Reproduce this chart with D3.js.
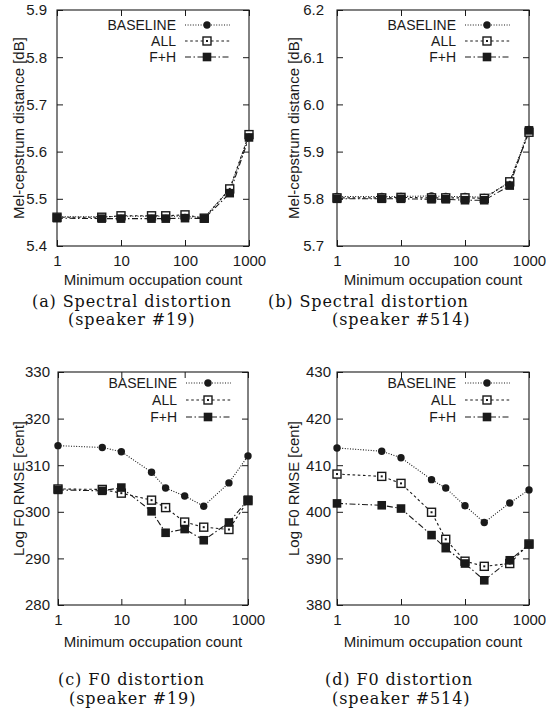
<!DOCTYPE html>
<html><head><meta charset="utf-8">
<script src="https://cdn.jsdelivr.net/npm/d3@7"></script>
<style>html,body{margin:0;padding:0;background:#fff;}svg{display:block;}</style>
</head><body>
<script>
const xCounts = [1, 5, 10, 30, 50, 100, 200, 500, 1000];
const xTickValues = [1, 10, 100, 1000];
const seriesNames = ["BASELINE", "ALL", "F+H"];

// (a) Spectral distortion, speaker #19
const specA_baseline = [5.462, 5.462, 5.463, 5.463, 5.463, 5.463, 5.460, 5.520, 5.635];
const specA_all      = [5.461, 5.461, 5.464, 5.464, 5.464, 5.466, 5.459, 5.521, 5.636];
const specA_fh       = [5.459, 5.458, 5.458, 5.458, 5.458, 5.459, 5.458, 5.512, 5.630];
const specA_yTicks = [5.4, 5.5, 5.6, 5.7, 5.8, 5.9];

// (b) Spectral distortion, speaker #514
const specB_baseline = [5.805, 5.805, 5.805, 5.806, 5.805, 5.805, 5.803, 5.835, 5.947];
const specB_all      = [5.802, 5.802, 5.803, 5.802, 5.802, 5.802, 5.801, 5.836, 5.941];
const specB_fh       = [5.800, 5.800, 5.800, 5.799, 5.799, 5.797, 5.797, 5.828, 5.945];
const specB_yTicks = [5.7, 5.8, 5.9, 6.0, 6.1, 6.2];

// (c) F0 distortion, speaker #19
const f0C_baseline = [314.2, 313.8, 312.9, 308.5, 305.1, 303.4, 301.2, 306.2, 312.0];
const f0C_all      = [304.9, 304.8, 304.0, 302.5, 300.9, 297.8, 296.7, 296.2, 302.4];
const f0C_fh       = [304.7, 304.5, 305.2, 300.1, 295.5, 296.3, 293.9, 297.7, 302.6];
const f0C_yTicks = [280, 290, 300, 310, 320, 330];

// (d) F0 distortion, speaker #514
const f0D_baseline = [413.7, 413.0, 411.6, 406.9, 405.1, 401.3, 397.7, 401.9, 404.7];
const f0D_all      = [408.1, 407.6, 406.1, 399.9, 394.1, 389.4, 388.3, 388.9, 393.1];
const f0D_fh       = [401.8, 401.4, 400.7, 395.0, 392.2, 388.9, 385.3, 389.6, 393.0];
const f0D_yTicks = [380, 390, 400, 410, 420, 430];

const W = 546, H = 708;
const SANS = "'Liberation Sans', Arial, Helvetica, sans-serif";
const SERIF = "'DejaVu Serif', 'Liberation Serif', serif";
const INK = "#1a1a1a";

const svg = d3.select("body").append("svg").attr("width", W).attr("height", H)
  .attr("viewBox", `0 0 ${W} ${H}`);
svg.append("rect").attr("width", W).attr("height", H).attr("fill", "#fff");

const styles = [
  {dash: "1,1.6", marker: "circle"},
  {dash: "2.6,2.6", marker: "open"},
  {dash: "6,2.5,1.5,2.5", marker: "filled"}
];

function drawMarker(g, type, x, y) {
  if (type === "circle") {
    g.append("circle").attr("cx", x).attr("cy", y).attr("r", 3.7).attr("fill", INK);
  } else if (type === "open") {
    g.append("rect").attr("x", x - 4).attr("y", y - 4).attr("width", 8).attr("height", 8)
      .attr("fill", "#fff").attr("stroke", INK).attr("stroke-width", 1.4);
    g.append("rect").attr("x", x - 1).attr("y", y - 1).attr("width", 2).attr("height", 2)
      .attr("fill", INK);
  } else {
    g.append("rect").attr("x", x - 4.3).attr("y", y - 4.3).attr("width", 8.6).attr("height", 8.6)
      .attr("fill", INK);
  }
}

function panel(cfg) {
  const x = d3.scaleLog().domain([1, 1000]).range([cfg.left, cfg.right]);
  const y = d3.scaleLinear().domain([cfg.yTicks[0], cfg.yTicks[cfg.yTicks.length - 1]])
    .range([cfg.bottom, cfg.top]);
  const g = svg.append("g");
  const tl = 6;

  const fmt = cfg.fmt;
  const axL = g.append("g").attr("transform", `translate(${cfg.left},0)`)
    .call(d3.axisLeft(y).tickValues(cfg.yTicks).tickFormat(fmt).tickSizeInner(-tl).tickSizeOuter(0).tickPadding(cfg.yPad));
  const axR = g.append("g").attr("transform", `translate(${cfg.right},0)`)
    .call(d3.axisRight(y).tickValues(cfg.yTicks).tickFormat("").tickSizeInner(-tl).tickSizeOuter(0));
  const axB = g.append("g").attr("transform", `translate(0,${cfg.bottom})`)
    .call(d3.axisBottom(x).tickValues(xTickValues).tickFormat(d3.format("d")).tickSizeInner(-tl).tickSizeOuter(0).tickPadding(9));
  const axT = g.append("g").attr("transform", `translate(0,${cfg.top})`)
    .call(d3.axisTop(x).tickValues(xTickValues).tickFormat("").tickSizeInner(-tl).tickSizeOuter(0));
  [axL, axR, axB, axT].forEach(a => {
    a.select(".domain").remove();
    a.selectAll("line").attr("stroke", INK).attr("stroke-width", 1);
    a.selectAll("text").attr("font-family", SANS).attr("font-size", 15).attr("fill", INK);
  });

  g.append("rect").attr("x", cfg.left).attr("y", cfg.top)
    .attr("width", cfg.right - cfg.left).attr("height", cfg.bottom - cfg.top)
    .attr("fill", "none").attr("stroke", INK).attr("stroke-width", 1.1);

  const line = d3.line().x((d, i) => x(xCounts[i])).y(d => y(d));
  cfg.series.forEach((vals, si) => {
    g.append("path").datum(vals).attr("d", line).attr("fill", "none")
      .attr("stroke", INK).attr("stroke-width", 1.1).attr("stroke-dasharray", styles[si].dash);
  });
  cfg.series.forEach((vals, si) => {
    vals.forEach((v, i) => drawMarker(g, styles[si].marker, x(xCounts[i]), y(v)));
  });

  seriesNames.forEach((name, si) => {
    const ly = cfg.legY[si];
    g.append("text").attr("x", cfg.legTextX).attr("y", ly).attr("dy", "0.35em")
      .attr("text-anchor", "end").attr("font-family", SANS).attr("font-size", 14)
      .attr("fill", INK).text(name);
    g.append("line").attr("x1", cfg.legTextX + 9).attr("x2", cfg.legTextX + 54)
      .attr("y1", ly).attr("y2", ly).attr("stroke", INK).attr("stroke-width", 1.1)
      .attr("stroke-dasharray", styles[si].dash);
    drawMarker(g, styles[si].marker, cfg.legTextX + 31, ly);
  });

  g.append("text").attr("x", (cfg.left + cfg.right) / 2).attr("y", cfg.xLabelY)
    .attr("text-anchor", "middle").attr("font-family", SANS).attr("font-size", 15)
    .attr("fill", INK).text("Minimum occupation count");
  const ymid = (cfg.top + cfg.bottom) / 2;
  g.append("text").attr("transform", `translate(${cfg.left - cfg.yLabOff},${ymid}) rotate(-90)`)
    .attr("text-anchor", "middle").attr("font-family", SANS).attr("font-size", 15)
    .attr("fill", INK).text(cfg.ylabel);

  cfg.caption.forEach(c => {
    g.append("text").attr("x", c.x).attr("y", c.y).attr("font-family", SERIF)
      .attr("font-size", 16).attr("letter-spacing", 0.9).attr("fill", "#111").text(c.t);
  });
}

const f1 = d3.format(".1f"), f0 = d3.format("d");

panel({left: 57, right: 249, top: 10, bottom: 246, yTicks: specA_yTicks, fmt: f1, yPad: 10, yLabOff: 33,
  series: [specA_baseline, specA_all, specA_fh], ylabel: "Mel-cepstrum distance [dB]",
  legTextX: 176, legY: [25, 41, 57], xLabelY: 285,
  caption: [{x: 32, y: 307, t: "(a) Spectral distortion"}, {x: 68, y: 325, t: "(speaker #19)"}]});

panel({left: 337, right: 529, top: 10, bottom: 246, yTicks: specB_yTicks, fmt: f1, yPad: 13, yLabOff: 38,
  series: [specB_baseline, specB_all, specB_fh], ylabel: "Mel-cepstrum distance [dB]",
  legTextX: 456, legY: [25, 41, 57], xLabelY: 285,
  caption: [{x: 268, y: 307, t: "(b) Spectral distortion"}, {x: 332, y: 325, t: "(speaker #514)"}]});

panel({left: 58, right: 248, top: 372, bottom: 605, yTicks: f0C_yTicks, fmt: f0, yPad: 8, yLabOff: 34,
  series: [f0C_baseline, f0C_all, f0C_fh], ylabel: "Log F0 RMSE [cent]",
  legTextX: 177, legY: [383, 400, 417], xLabelY: 647,
  caption: [{x: 58, y: 685, t: "(c) F0 distortion"}, {x: 69, y: 704, t: "(speaker #19)"}]});

panel({left: 337, right: 529, top: 372, bottom: 605, yTicks: f0D_yTicks, fmt: f0, yPad: 6, yLabOff: 38,
  series: [f0D_baseline, f0D_all, f0D_fh], ylabel: "Log F0 RMSE [cent]",
  legTextX: 456, legY: [383, 400, 417], xLabelY: 647,
  caption: [{x: 325, y: 685, t: "(d) F0 distortion"}, {x: 332, y: 704, t: "(speaker #514)"}]});
</script>
</body></html>
